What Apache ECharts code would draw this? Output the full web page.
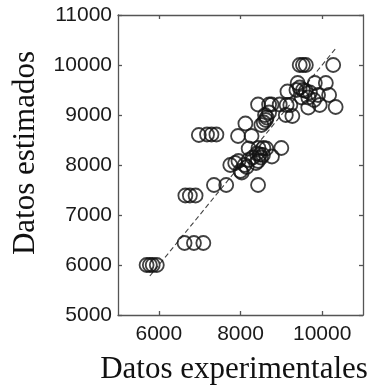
<!DOCTYPE html>
<html>
<head>
<meta charset="utf-8">
<style>html,body{margin:0;padding:0;background:#fff;}#c{width:373px;height:387px;}</style>
<script src="https://cdn.jsdelivr.net/npm/echarts@6/dist/echarts.min.js"></script>
</head>
<body>
<div id="c"></div>
<script>
// Datos experimentales (x) and Datos estimados (y)
const experimentales = [
  5700, 5780, 5850, 5950,
  6630, 6860, 7090,
  6650, 6760, 6900,
  6980, 7180, 7290, 7410,
  7350, 7650, 8430,
  7750, 7870, 7950, 8030, 8100, 8150, 8000, 8200, 8380, 8430, 8300, 8500, 8550, 8470, 8400, 8770,
  8200, 8440, 8560, 8630, 9000, 8120, 7940, 8270,
  8510, 8570, 8620, 8640, 8600, 8700, 9110, 9270,
  8430, 8700, 8760, 8960, 9130, 9220, 9660, 9940, 10330,
  9150, 9370, 9450, 9530, 9600, 9400, 9820, 10090, 9900, 10170, 9660, 9800, 9500, 9700,
  9450, 9530, 9600, 10270
];
const estimados = [
  6000, 6000, 6000, 6000,
  6440, 6440, 6440,
  7390, 7390, 7390,
  8600, 8610, 8610, 8610,
  7600, 7600, 7600,
  8000, 8040, 8080, 7850, 8000, 7960, 7880, 8100, 8040, 8080, 8150, 8150, 8200, 8210, 8230, 8170,
  8330, 8340, 8340, 8330, 8340, 8830, 8580, 8580,
  8800, 8850, 8900, 8950, 9000, 9050, 9000, 8980,
  9210, 9210, 9210, 9210, 9200, 9200, 9150, 9200, 9160,
  9470, 9500, 9550, 9500, 9480, 9640, 9640, 9640, 9400, 9400, 9350, 9300, 9350, 9450,
  10000, 10000, 10000, 10000
];
// Dashed reference line (y = x)
const lineX = [5780, 10330];
const lineY = [5780, 10330];
// Axis ticks
const xTicks = [6000, 8000, 10000];
const yTicks = [5000, 6000, 7000, 8000, 9000, 10000, 11000];

const points = experimentales.map((v, i) => [v, estimados[i]]);
const linePts = lineX.map((v, i) => [v, lineY[i]]);

const chart = echarts.init(document.getElementById('c'), null, {renderer: 'canvas'});
const axisLineStyle = {color: '#555', width: 1.3};
const plain = v => String(v);
const labelFont = {fontFamily: '"Liberation Sans", Arial, sans-serif', fontSize: 21, color: '#1a1a1a', formatter: plain};
chart.setOption({
  animation: false,
  backgroundColor: '#fff',
  grid: {left: 118, right: 10, top: 15, bottom: 72, containLabel: false, outerBoundsMode: 'none'},
  xAxis: [{
    type: 'value', min: 5000, max: 11000, position: 'bottom',
    axisLine: {show: true, onZero: false, lineStyle: axisLineStyle},
    axisTick: {show: true, inside: true, length: 4, lineStyle: axisLineStyle, customValues: xTicks},
    axisLabel: Object.assign({margin: 9, customValues: xTicks}, labelFont),
    splitLine: {show: false}
  }, {
    type: 'value', min: 5000, max: 11000, position: 'top',
    axisLine: {show: true, onZero: false, lineStyle: axisLineStyle},
    axisTick: {show: true, inside: true, length: 4, lineStyle: axisLineStyle, customValues: xTicks},
    axisLabel: {show: false},
    splitLine: {show: false}
  }],
  yAxis: [{
    type: 'value', min: 5000, max: 11000, interval: 1000, position: 'left',
    axisLine: {show: true, onZero: false, lineStyle: axisLineStyle},
    axisTick: {show: true, inside: true, length: 4, lineStyle: axisLineStyle, customValues: yTicks},
    axisLabel: Object.assign({margin: 6, customValues: yTicks}, labelFont),
    splitLine: {show: false}
  }, {
    type: 'value', min: 5000, max: 11000, interval: 1000, position: 'right',
    axisLine: {show: true, onZero: false, lineStyle: axisLineStyle},
    axisTick: {show: true, inside: true, length: 4, lineStyle: axisLineStyle, customValues: yTicks},
    axisLabel: {show: false},
    splitLine: {show: false}
  }],
  graphic: [{
    type: 'text', x: 234, y: 370,
    style: {text: 'Datos experimentales', font: '31px "Liberation Serif", "Times New Roman", serif',
            fill: '#111', textAlign: 'center', textVerticalAlign: 'middle'}
  }, {
    type: 'text', x: 26, y: 153, rotation: Math.PI / 2,
    style: {text: 'Datos estimados', font: '31px "Liberation Serif", "Times New Roman", serif',
            fill: '#111', textAlign: 'center', textVerticalAlign: 'middle'}
  }],
  series: [{
    type: 'line', data: linePts, symbol: 'none', silent: true,
    lineStyle: {color: '#444', width: 1.1, type: [5, 3]}, z: 1
  }, {
    type: 'scatter', data: points, symbol: 'circle', symbolSize: 14,
    itemStyle: {color: 'rgba(0,0,0,0)', borderColor: '#111', borderWidth: 1.8}, z: 2
  }]
});
</script>
</body>
</html>
